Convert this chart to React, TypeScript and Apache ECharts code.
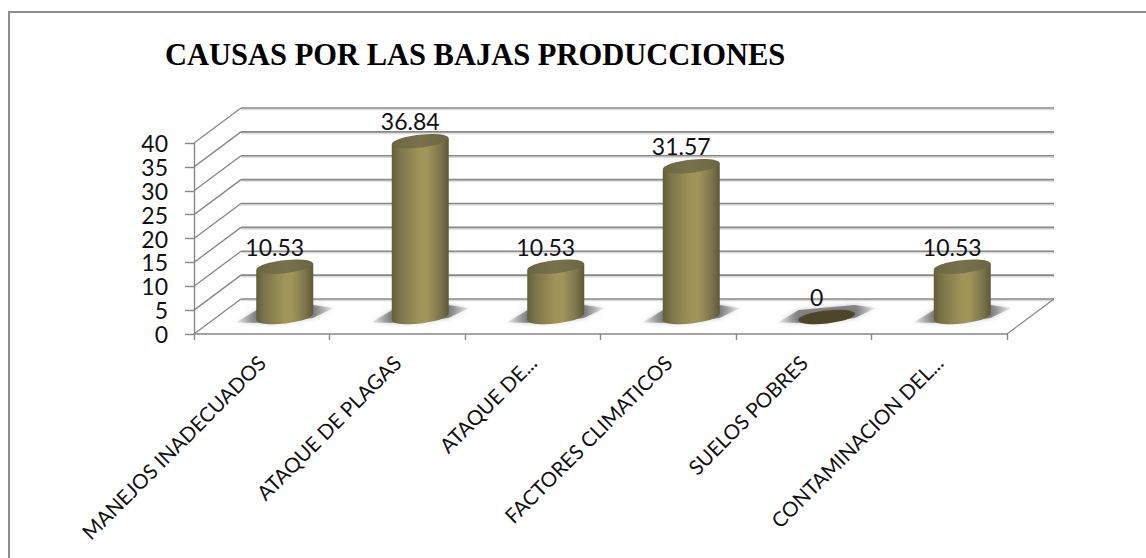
import React, { useEffect, useRef } from "react";
import * as echarts from "echarts";

const titleText = "CAUSAS POR LAS BAJAS PRODUCCIONES";
const categories = [
  "MANEJOS INADECUADOS",
  "ATAQUE DE PLAGAS",
  "ATAQUE DE...",
  "FACTORES CLIMATICOS",
  "SUELOS POBRES",
  "CONTAMINACION DEL...",
];
const values = [10.53, 36.84, 10.53, 31.57, 0, 10.53];
const yTicks = [0, 5, 10, 15, 20, 25, 30, 35, 40];

const DEPTH_X = 47;
const DEPTH_Y = 35;
const FONT = "Lato, 'Open Sans', sans-serif";
const LINE = "#878787";

const horiz = (stops: [number, string][]) => ({
  type: "linear",
  x: 0,
  y: 0,
  x2: 1,
  y2: 0,
  colorStops: stops.map(([offset, color]) => ({ offset, color })),
});

const bodyFill = horiz([
  [0, "#635e38"],
  [0.14, "#7b744b"],
  [0.5, "#a09558"],
  [0.62, "#a09558"],
  [0.86, "#7c754c"],
  [1, "#5e5935"],
]);
const topFill = horiz([
  [0, "#6b6642"],
  [0.5, "#78714d"],
  [1, "#6b6642"],
]);

function renderWall(params: any, api: any) {
  const v = api.value(1);
  const y = api.coord([0, v])[1];
  const cs = params.coordSys;
  const left = cs.x;
  const right = cs.x + cs.width;
  const children: any[] = [
    {
      type: "line",
      shape: { x1: left + DEPTH_X, y1: y - DEPTH_Y + 1.5, x2: right + DEPTH_X, y2: y - DEPTH_Y + 1.5 },
      style: { stroke: "#dcdcdc", lineWidth: 1.5 },
    },
    {
      type: "line",
      shape: { x1: left + DEPTH_X, y1: y - DEPTH_Y, x2: right + DEPTH_X, y2: y - DEPTH_Y },
      style: { stroke: LINE, lineWidth: 1.6 },
    },
    {
      type: "line",
      shape: { x1: left, y1: y, x2: left + DEPTH_X, y2: y - DEPTH_Y },
      style: { stroke: LINE, lineWidth: 1.3 },
    },
  ];
  if (v === 0) {
    children.push({
      type: "line",
      shape: { x1: right, y1: y, x2: right + DEPTH_X, y2: y - DEPTH_Y },
      style: { stroke: LINE, lineWidth: 1.3 },
    });
  }
  return { type: "group", children };
}

function renderCylinder(_params: any, api: any) {
  const i = api.value(0);
  const v = api.value(1);
  const base = api.coord([i, 0]);
  const top = api.coord([i, v]);
  const cx = base[0] + 23;
  const floorY = base[1] - 17;
  const topY = top[1] - 17;
  const w = 28.5;
  const tilt = 3.2;
  const rot = 0.11;
  const children: any[] = [
    {
      type: "polygon",
      shape: {
        points: [
          [cx - 49, floorY + 5.5],
          [cx - 28, floorY - 7],
          [cx + 28, floorY - 12],
          [cx + 49, floorY - 9],
          [cx + 28, floorY + 1],
          [cx - 10, floorY + 6],
        ],
      },
      style: {
        fill: horiz([
          [0, "rgba(130,130,130,0.1)"],
          [0.2, "rgba(110,110,110,0.8)"],
          [0.8, "rgba(110,110,110,0.8)"],
          [1, "rgba(130,130,130,0.1)"],
        ]),
        shadowBlur: 5,
        shadowColor: "rgba(130,130,130,0.6)",
      },
    },
  ];
  if (v > 0) {
    children.push(
      {
        type: "ellipse",
        x: cx,
        y: floorY,
        rotation: rot,
        shape: { cx: 0, cy: 0, rx: w, ry: 6.5 },
        style: { fill: bodyFill },
      },
      {
        type: "polygon",
        shape: {
          points: [
            [cx - w, topY + tilt],
            [cx + w, topY - tilt],
            [cx + w, floorY - tilt],
            [cx - w, floorY + tilt],
          ],
        },
        style: { fill: bodyFill },
      },
      {
        type: "ellipse",
        x: cx,
        y: topY,
        rotation: rot,
        shape: { cx: 0, cy: 0, rx: w, ry: 6.5 },
        style: { fill: topFill },
      }
    );
  } else {
    children.push({
      type: "ellipse",
      x: cx,
      y: floorY,
      rotation: rot,
      shape: { cx: 0, cy: 0, rx: w, ry: 6.5 },
      style: { fill: "#4d4629" },
    });
  }
  children.push({
    type: "text",
    style: {
      text: String(v),
      x: cx - 10,
      y: topY - 20,
      textAlign: "center",
      textVerticalAlign: "middle",
      fontFamily: FONT,
      fontSize: 23,
      fill: "#111",
    },
  });
  return { type: "group", children };
}

export default function App() {
  const ref = useRef<HTMLDivElement>(null);
  useEffect(() => {
    document.body.style.margin = "0";
    const chart = echarts.init(ref.current!, undefined, { renderer: "svg" });
    chart.setOption({
      animation: false,
      backgroundColor: "#fff",
      title: {
        text: titleText,
        left: 160,
        top: 34,
        textStyle: {
          fontFamily: "'Liberation Serif', serif",
          fontWeight: "bold",
          fontSize: 30.5,
          color: "#000",
        },
      },
      graphic: [
        {
          type: "polyline",
          shape: { points: [[9, 558], [9, 12], [1146, 12]] },
          style: { stroke: "#8c8c8c", lineWidth: 2, fill: "none" },
        },
      ],
      grid: { left: 194, top: 143, width: 813, height: 191 },
      xAxis: {
        type: "category",
        data: categories,
        boundaryGap: true,
        axisLine: { lineStyle: { color: LINE, width: 1.6 } },
        axisTick: { show: true, length: 6, alignWithLabel: false, lineStyle: { color: LINE, width: 1.4 } },
        axisLabel: {
          interval: 0,
          rotate: 45,
          margin: 25,
          fontFamily: FONT,
          fontSize: 20.5,
          color: "#111",
        },
      },
      yAxis: {
        type: "value",
        min: 0,
        max: 40,
        interval: 5,
        splitLine: { show: false },
        axisLine: { show: true, lineStyle: { color: LINE, width: 1.4 } },
        axisTick: { show: true, length: 9, lineStyle: { color: LINE, width: 1.4 } },
        axisLabel: { margin: 26, fontFamily: FONT, fontSize: 23, color: "#111" },
      },
      series: [
        {
          type: "custom",
          z: 1,
          clip: false,
          silent: true,
          renderItem: renderWall,
          encode: { x: 0, y: 1 },
          data: yTicks.map((t) => [0, t]),
        },
        {
          type: "custom",
          z: 3,
          clip: false,
          silent: true,
          renderItem: renderCylinder,
          encode: { x: 0, y: 1 },
          data: values.map((v, i) => [i, v]),
        },
      ],
    });
    return () => chart.dispose();
  }, []);
  return <div ref={ref} style={{ width: 1146, height: 558 }} />;
}
